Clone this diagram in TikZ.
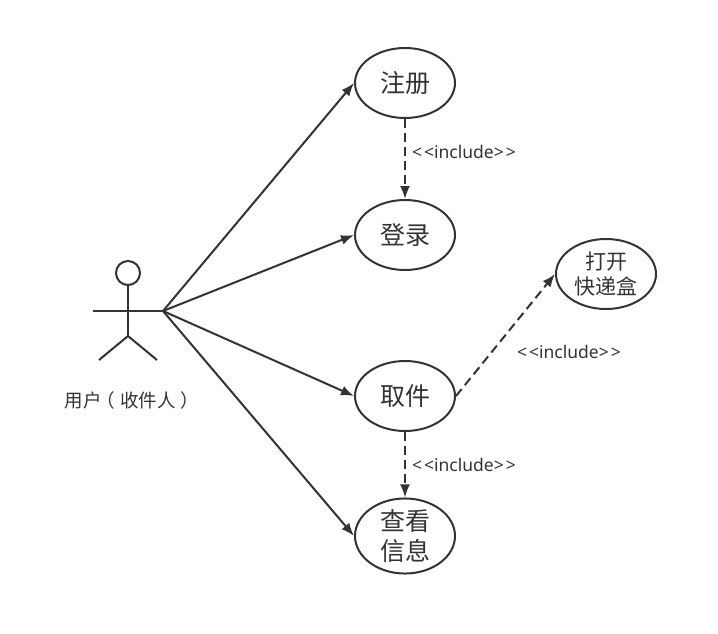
\documentclass[tikz,border=0pt]{standalone}
\usepackage{fontspec}
\setmainfont{Noto Sans}
\newfontfamily\cjk{Noto Sans CJK SC}
\usetikzlibrary{shapes.geometric,arrows.meta}
\definecolor{inkgray}{HTML}{333333}
\newcommand{\stereotext}{<\kern2pt<include>\kern2pt>}
\tikzset{
  usecase/.style={draw=inkgray,line width=2pt,ellipse,minimum width=100pt,minimum height=70pt,inner sep=0pt,align=center,text=inkgray,font=\cjk\fontsize{25}{30}\selectfont},
  usecasesmall/.style={usecase,font=\cjk\fontsize{21}{25}\selectfont},
  limb/.style={draw=inkgray,line width=2pt},
  assoc/.style={draw=inkgray,line width=2pt,-{Latex[length=13pt,width=10pt]}},
  incl/.style={assoc,dash pattern=on 9pt off 5pt},
  stereo/.style={text=inkgray,inner sep=0pt,font=\fontsize{17.5}{21}\selectfont},
}
\begin{document}
\begin{tikzpicture}[x=1pt,y=-1pt]
\useasboundingbox (0,0) rectangle (718,633);
% use cases
\node[usecase] (reg) at (405,83) {注册};
\node[usecase] (login) at (405,235) {登录};
\node[usecase] (fetch) at (405,396) {取件};
\node[usecase] (info) at (405,536) {查看\\信息};
\node[usecasesmall] (openbox) at (606,274) {打开\\快递盒};
% actor
\node[draw=inkgray,line width=2pt,circle,minimum size=24pt,inner sep=0pt] (head) at (128,273) {};
\coordinate (neck) at (128,311);
\coordinate (handl) at (93,311);
\coordinate (handr) at (163,311);
\coordinate (hip) at (128,336);
\coordinate (footl) at (99,360);
\coordinate (footr) at (157,360);
\draw[limb] (head) -- (neck) -- (hip);
\draw[limb] (handl) -- (handr);
\draw[limb] (footl) -- (hip) -- (footr);
\node[text=inkgray,inner sep=0pt,font=\cjk\fontsize{18.5}{22}\selectfont] (user) at (129.5,400) {用户\kern-5pt（\kern5pt收件人\kern5pt）\kern-5pt};
% associations
\draw[assoc] (handr) -- (reg.west);
\draw[assoc] (handr) -- (login.west);
\draw[assoc] (handr) -- (fetch.west);
\draw[assoc] (handr) -- (info.west);
% includes
\draw[incl] (reg) -- (login);
\draw[incl] (fetch) -- (info);
\draw[incl] (fetch.east) -- (openbox.west);
\node[stereo] (lab1) at (464,152) {\stereotext};
\node[stereo] (lab2) at (569,352) {\stereotext};
\node[stereo] (lab3) at (464,465) {\stereotext};
\end{tikzpicture}
\end{document}
